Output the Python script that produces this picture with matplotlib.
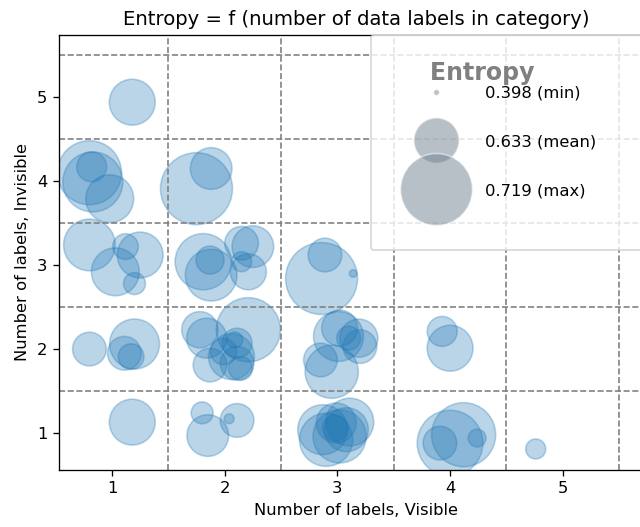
import matplotlib
matplotlib.use("Agg")
import matplotlib.pyplot as plt
import numpy as np

# values
visible = [1.18, 0.80, 0.82, 0.83, 0.98, 1.75, 1.88,
           0.80, 1.03, 1.12, 1.25, 1.20,
           1.81, 1.87, 1.88, 2.15, 2.25, 2.15, 2.21,
           2.21, 1.78, 1.84, 1.87, 2.11, 2.06, 2.11, 2.14, 1.99, 2.09,
           0.80, 1.20, 1.11, 1.17,
           1.18, 1.80, 1.85, 2.11, 2.04,
           2.86, 2.89, 3.14,
           3.01, 3.19, 3.10, 2.85, 2.95, 3.20, 3.02,
           3.93, 4.00,
           2.87, 2.90, 2.99, 3.11, 3.02, 2.98, 3.08,
           4.00, 4.12, 3.91, 4.24, 4.76]
invisible = [4.94, 4.10, 4.17, 3.99, 3.79, 3.91, 4.15,
             3.24, 2.92, 3.22, 3.12, 2.78,
             3.04, 3.06, 2.88, 3.26, 3.22, 3.04, 2.92,
             2.23, 2.23, 2.13, 1.81, 2.07, 1.91, 1.83, 1.77, 1.97, 2.11,
             2.00, 2.06, 1.95, 1.91,
             1.13, 1.24, 0.97, 1.15, 1.17,
             2.84, 3.12, 2.90,
             2.15, 2.13, 2.13, 1.87, 1.73, 2.03, 2.25,
             2.21, 2.01,
             1.04, 0.92, 1.12, 1.13, 0.96, 1.06, 1.04,
             0.88, 0.98, 0.88, 0.94, 0.81]
entropy = [0.635, 0.695, 0.575, 0.682, 0.642, 0.719, 0.620,
           0.655, 0.642, 0.557, 0.635, 0.540,
           0.670, 0.567, 0.655, 0.590, 0.620, 0.531, 0.599,
           0.695, 0.600, 0.614, 0.590, 0.575, 0.635, 0.590, 0.549, 0.560, 0.510,
           0.590, 0.649, 0.590, 0.557,
           0.635, 0.540, 0.620, 0.590, 0.472,
           0.719, 0.590, 0.450,
           0.649, 0.607, 0.549, 0.590, 0.660, 0.590, 0.599,
           0.575, 0.635,
           0.649, 0.660, 0.614, 0.642, 0.660, 0.557, 0.628,
           0.700, 0.695, 0.590, 0.520, 0.531]

legend_values = [0.398, 0.633, 0.719]
legend_names = ["min", "mean", "max"]
ticks = [1, 2, 3, 4, 5]
cell_edges = [1.5, 2.5, 3.5, 4.5, 5.5]

DPI = 118
E_MIN, E_MAX = legend_values[0], legend_values[-1]


def bubble_size(e):
    """Map entropy to marker area (points^2)."""
    n = (np.asarray(e, dtype=float) - E_MIN) / (E_MAX - E_MIN)
    return 13 + 1916 * n ** 3


fig = plt.figure(figsize=(640 / DPI, 527 / DPI), dpi=DPI)
ax = fig.add_axes([0.0922, 0.1082, 0.928, 0.8254])

ax.scatter(visible, invisible, s=bubble_size(entropy),
           color="tab:blue", edgecolors="tab:blue", linewidths=1.0, alpha=0.3)

for v in cell_edges:
    ax.axvline(v, color="gray", linestyle="--", linewidth=1.0)
    ax.axhline(v, color="gray", linestyle="--", linewidth=1.0)

ax.set_xlim(0.53, 5.8)
ax.set_ylim(0.56, 5.74)
ax.set_xticks(ticks)
ax.set_yticks(ticks)
ax.set_xlabel("Number of labels, Visible")
ax.set_ylabel("Number of labels, Invisible")
ax.set_title("Entropy = f (number of data labels in category)")

# size legend
handles = []
for val, name in zip(legend_values, legend_names):
    h = ax.scatter([], [], s=bubble_size(val), color="slategray", alpha=0.5,
                   edgecolors="white", linewidths=1.0,
                   label=f"{val:.3f} ({name})")
    handles.append(h)

leg = ax.legend(handles=handles, loc="upper left",
                bbox_to_anchor=(0.525, 0.0, 0.6, 1.0), mode="expand",
                borderaxespad=0, borderpad=1.6, handlelength=4.75,
                handletextpad=0.6, handleheight=5.8, labelspacing=-1.04,
                scatteryoffsets=[0.09], alignment="left",
                title="    Entropy",
                title_fontproperties={"size": "x-large", "weight": "bold"})
leg.get_title().set_color("gray")
# pull the entries up closer to the title
leg._legend_box.sep = -14.8

fig.savefig("out.png", dpi=DPI)
